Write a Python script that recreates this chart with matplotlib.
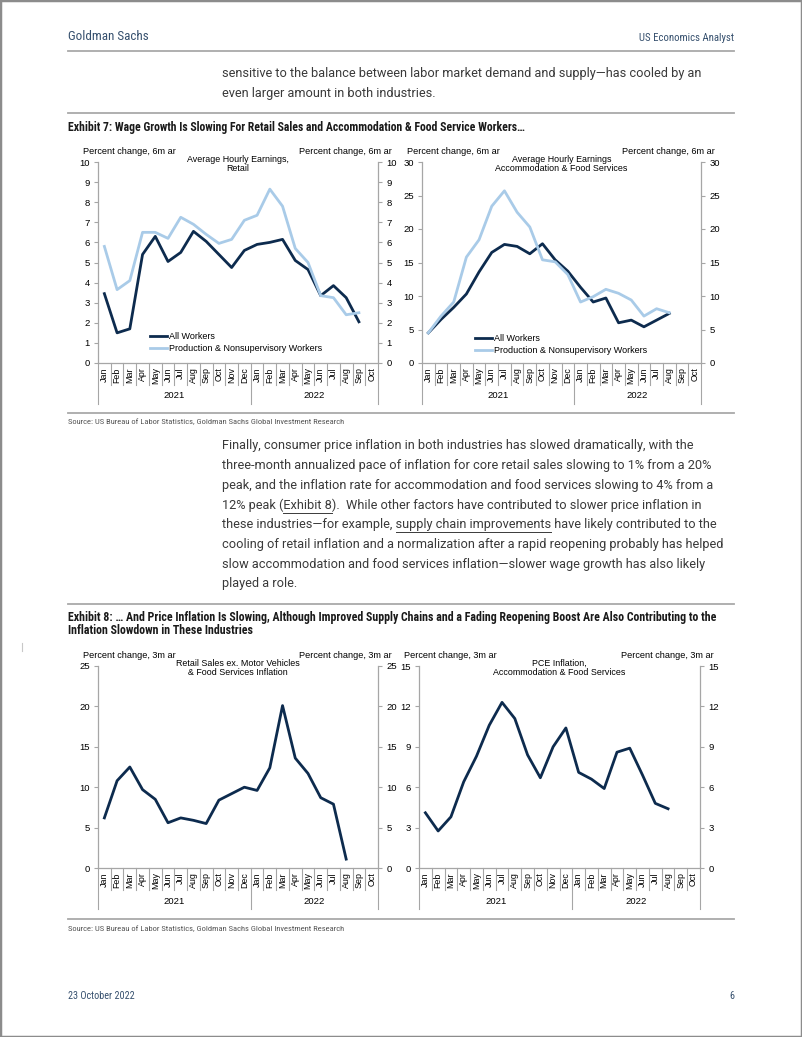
import numpy as np
import matplotlib
matplotlib.use("Agg")
import matplotlib.pyplot as plt
from matplotlib.lines import Line2D
from matplotlib.patches import Rectangle

# ---- data ----
months = ['Jan', 'Feb', 'Mar', 'Apr', 'May', 'Jun', 'Jul', 'Aug', 'Sep', 'Oct', 'Nov', 'Dec',
          'Jan', 'Feb', 'Mar', 'Apr', 'May', 'Jun', 'Jul', 'Aug', 'Sep', 'Oct']
years = ['2021', '2022']

# Exhibit 7 left: average hourly earnings, retail (6m ar)
retail_all = [3.45, 1.5, 1.7, 5.4, 6.3, 5.05, 5.5, 6.55, 6.05, 5.4, 4.75, 5.6,
              5.9, 6.0, 6.15, 5.1, 4.65, 3.35, 3.85, 3.25, 2.05]
retail_prod = [5.8, 3.65, 4.1, 6.5, 6.5, 6.2, 7.25, 6.9, 6.4, 5.95, 6.15, 7.1,
               7.35, 8.65, 7.8, 5.7, 5.0, 3.35, 3.25, 2.4, 2.5]
# Exhibit 7 right: average hourly earnings, accommodation & food services
accom_all = [4.5, 6.5, 8.3, 10.3, 13.6, 16.5, 17.7, 17.4, 16.3, 17.8, 15.4, 13.7,
             11.3, 9.1, 9.7, 6.0, 6.4, 5.4, 6.4, 7.4]
accom_prod = [4.5, 7.0, 9.1, 15.8, 18.4, 23.4, 25.7, 22.5, 20.3, 15.4, 15.1, 13.2,
              9.1, 9.9, 11.0, 10.4, 9.4, 7.0, 8.1, 7.5]
# Exhibit 8 left: retail sales ex. motor vehicles & food services inflation (3m ar)
retail_infl = [6.2, 10.8, 12.5, 9.7, 8.5, 5.6, 6.2, 5.9, 5.5, 8.4, 9.2, 10.0,
               9.6, 12.4, 20.1, 13.6, 11.7, 8.7, 7.9, 1.1]
# Exhibit 8 right: PCE inflation, accommodation & food services (3m ar)
pce_accom = [4.1, 2.75, 3.8, 6.4, 8.3, 10.6, 12.3, 11.1, 8.4, 6.7, 9.0, 10.4,
             7.1, 6.6, 5.9, 8.6, 8.9, 6.9, 4.8, 4.4]

NAVY = '#0d2b4e'
LIGHT = '#a9cbe8'
AXIS = '#a6a6a6'
HEAD = '#36506e'
BODY = '#3a3a3a'
COND = ['Roboto Condensed', 'DejaVu Sans']
BODYFONT = ['Roboto', 'DejaVu Sans']

plt.rcParams['font.family'] = ['Liberation Sans', 'DejaVu Sans']

W, H = 802, 1037
fig = plt.figure(figsize=(W / 100, H / 100), dpi=100)
renderer = fig.canvas.get_renderer()


def fx(x):
    return x / W


def fy(y):
    return 1 - y / H


def width_of(s, size, **kw):
    t = fig.text(0, 0, s, fontsize=size, **kw)
    w = t.get_window_extent(renderer).width
    t.remove()
    return w


def fit_size(s, target, base=10, **kw):
    return base * target / width_of(s, base, **kw)


def hline(y, x0=68, x1=734, lw=1.3, color='#a9a9a9'):
    fig.add_artist(Line2D([fx(x0), fx(x1)], [fy(y), fy(y)], color=color, lw=lw))


def ptext(x, y, s, **kw):
    return fig.text(fx(x), fy(y), s, va='center', **kw)


def underline(x, y, line, word, size, **kw):
    i = line.index(word)
    pre = line[:i]
    start = width_of(pre.rstrip(), size, **kw)
    if pre.endswith(' '):
        start += width_of('x x', size, **kw) - width_of('xx', size, **kw)
    end = width_of(pre + word, size, **kw)
    fig.add_artist(Line2D([fx(x + start), fx(x + end)], [fy(y + 7.5), fy(y + 7.5)],
                          color=BODY, lw=0.7))


def chart(x0, x1, y0, y1, ymax, step, unit, title, series, legend=None, leg_pos=None):
    ax = fig.add_axes([fx(x0), fy(y1), (x1 - x0) / W, (y1 - y0) / H])
    for vals, color in series:
        ax.plot(range(len(vals)), vals, color=color, lw=2.0)
    ax.set_xlim(-0.5, len(months) - 0.5)
    ax.set_ylim(0, ymax)
    ticks = np.arange(0, ymax + step / 2, step)
    ax.set_yticks(ticks)
    ax.set_yticklabels([f'{t:g}' for t in ticks])
    ax.tick_params(axis='y', left=True, right=True, labelleft=True, labelright=True,
                   direction='out', length=3, width=0.8, color=AXIS, labelsize=6.8, pad=3)
    ax.set_xticks(range(len(months)))
    ax.set_xticklabels(months, rotation=90, fontsize=6.4)
    ax.tick_params(axis='x', length=0, pad=3)
    ax.spines['top'].set_visible(False)
    for sp in ['left', 'right', 'bottom']:
        ax.spines[sp].set_color(AXIS)
        ax.spines[sp].set_linewidth(0.9)
    tr = ax.get_xaxis_transform()
    hpx = y1 - y0
    for i in range(len(months) + 1):
        bottom = -41 / hpx if i in (0, 12, len(months)) else -22 / hpx
        ax.plot([i - 0.5, i - 0.5], [0, bottom], color=AXIS, lw=0.8,
                transform=tr, clip_on=False)
    ax.text(5.5, -33 / hpx, years[0], transform=tr, ha='center', va='center', fontsize=6.8)
    ax.text(16.5, -33 / hpx, years[1], transform=tr, ha='center', va='center', fontsize=6.8)
    ax.text(0.5, 1 + 7 / hpx, title, transform=ax.transAxes, ha='center', va='top',
            fontsize=6.4, linespacing=1.05)
    ptext(x0 - 15, y0 - 10, unit, ha='left', fontsize=6.6)
    ptext(x1 + 14, y0 - 10, unit, ha='right', fontsize=6.6)
    if legend:
        ax.legend(legend, loc='upper left', bbox_to_anchor=leg_pos, frameon=False,
                  fontsize=6.5, handlelength=1.9, handletextpad=0.15, labelspacing=0.35,
                  borderpad=0, borderaxespad=0)
    return ax


# ---- page frame and header ----
fig.add_artist(Rectangle((0, 0), 1, 1, transform=fig.transFigure, fill=False,
                         edgecolor='#8c8c8c', lw=2.5))
ptext(68, 36, 'Goldman Sachs', ha='left', color=HEAD, family=COND,
      fontsize=fit_size('Goldman Sachs', 81, family=COND))
ptext(734, 38, 'US Economics Analyst', ha='right', color=HEAD, family=COND,
      fontsize=fit_size('US Economics Analyst', 95, family=COND))
hline(51)

body_size = fit_size('three-month annualized pace of inflation for core retail sales slowing to 1% from a 20%',
                     492, family=BODYFONT)
para1 = ['sensitive to the balance between labor market demand and supply\u2014has cooled by an',
         'even larger amount in both industries.']
for k, s in enumerate(para1):
    ptext(222, 73 + 20 * k, s, ha='left', color=BODY, family=BODYFONT, fontsize=body_size)
hline(113)

ex7 = 'Exhibit 7: Wage Growth Is Slowing For Retail Sales and Accommodation & Food Service Workers\u2026'
title_size = fit_size(ex7, 459, family=COND, weight='bold')
ptext(68, 127, ex7, ha='left', family=COND, weight='bold', fontsize=title_size, color='#1a1a1a')

# ---- Exhibit 7 charts ----
chart(98, 378, 162, 363, 10, 1, 'Percent change, 6m ar', 'Average Hourly Earnings,\nRetail',
      [(retail_all, NAVY), (retail_prod, LIGHT)],
      legend=['All Workers', 'Production & Nonsupervisory Workers'], leg_pos=(0.186, 0.155))
chart(422, 701, 162, 363, 30, 5, 'Percent change, 6m ar',
      'Average Hourly Earnings\nAccommodation & Food Services',
      [(accom_all, NAVY), (accom_prod, LIGHT)],
      legend=['All Workers', 'Production & Nonsupervisory Workers'], leg_pos=(0.19, 0.145))

hline(413)
src = 'Source: US Bureau of Labor Statistics, Goldman Sachs Global Investment Research'
src_size = fit_size(src, 274, family=COND)
ptext(68, 422, src, ha='left', family=COND, fontsize=src_size, color='#555555')

para2 = ['Finally, consumer price inflation in both industries has slowed dramatically, with the',
         'three-month annualized pace of inflation for core retail sales slowing to 1% from a 20%',
         'peak, and the inflation rate for accommodation and food services slowing to 4% from a',
         '12% peak (Exhibit 8).  While other factors have contributed to slower price inflation in',
         'these industries\u2014for example, supply chain improvements have likely contributed to the',
         'cooling of retail inflation and a normalization after a rapid reopening probably has helped',
         'slow accommodation and food services inflation\u2014slower wage growth has also likely',
         'played a role.']
for k, s in enumerate(para2):
    ptext(222, 446 + 19.7 * k, s, ha='left', color=BODY, family=BODYFONT, fontsize=body_size)
underline(222, 446 + 19.7 * 3, para2[3], 'Exhibit 8', body_size, family=BODYFONT)
underline(222, 446 + 19.7 * 4, para2[4], 'supply chain improvements', body_size, family=BODYFONT)

hline(604)
ex8 = ['Exhibit 8: \u2026 And Price Inflation Is Slowing, Although Improved Supply Chains and a Fading '
       'Reopening Boost Are Also Contributing to the',
       'Inflation Slowdown in These Industries']
ex8_size = fit_size(ex8[0], 651, family=COND, weight='bold')
for k, s in enumerate(ex8):
    ptext(68, 617 + 14 * k, s, ha='left', family=COND, weight='bold', fontsize=ex8_size,
          color='#1a1a1a')
fig.add_artist(Line2D([fx(22), fx(22)], [fy(643), fy(651)], color='#c8c8c8', lw=0.8))

# ---- Exhibit 8 charts ----
chart(98, 378, 666, 868, 25, 5, 'Percent change, 3m ar',
      'Retail Sales ex. Motor Vehicles\n& Food Services Inflation', [(retail_infl, NAVY)])
chart(419, 700, 666, 868, 15, 3, 'Percent change, 3m ar',
      'PCE Inflation,\nAccommodation & Food Services', [(pce_accom, NAVY)])

hline(919)
ptext(68, 929, src, ha='left', family=COND, fontsize=src_size, color='#555555')

foot_size = fit_size('23 October 2022', 66, family=COND)
ptext(68, 996, '23 October 2022', ha='left', color=HEAD, family=COND, fontsize=foot_size)
ptext(734, 996, '6', ha='right', color=HEAD, family=COND, fontsize=foot_size)

fig.savefig('out.png', dpi=100)
